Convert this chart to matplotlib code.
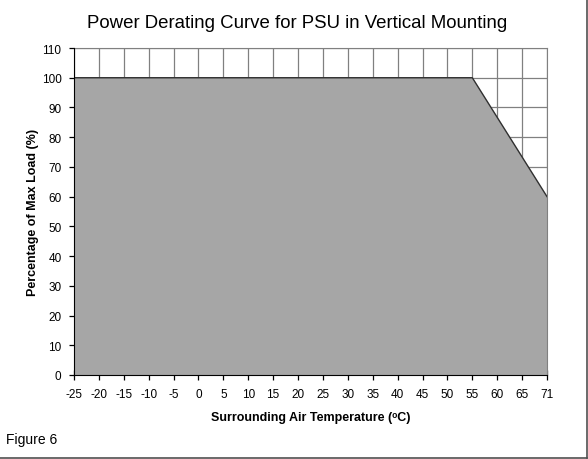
import numpy as np
import matplotlib
matplotlib.use("Agg")
import matplotlib.pyplot as plt

plt.rcParams['font.family'] = ['Liberation Sans', 'DejaVu Sans']

# x axis categories (evenly spaced, last one is 71)
temp_ticks = [-25, -20, -15, -10, -5, 0, 5, 10, 15, 20, 25, 30, 35, 40, 45, 50, 55, 60, 65, 71]
load_ticks = [0, 10, 20, 30, 40, 50, 60, 70, 80, 90, 100, 110]

# derating curve break points
curve_temp = [-25, 55, 71]
curve_load = [100, 100, 60]

fig = plt.figure(figsize=(5.88, 4.6), dpi=100)
ax = fig.add_axes([74/588, 1-376/460, (547-74)/588, (376-49)/460])

pos = np.arange(len(temp_ticks))
cx = [temp_ticks.index(t) for t in curve_temp]

ax.set_xlim(pos[0], pos[-1])
ax.set_ylim(0, 110)
ax.set_xticks(pos)
ax.set_xticklabels([str(t) for t in temp_ticks], fontsize=8.5)
ax.set_yticks(load_ticks)
ax.set_yticklabels([str(v) for v in load_ticks], fontsize=8.5)

ax.grid(True, color='#808080', linewidth=0.9)
ax.set_axisbelow(True)

ax.fill_between(cx, curve_load, 0, color='#a6a6a6', linewidth=0, zorder=2)
ax.plot(cx, curve_load, color='#303030', linewidth=1.0, zorder=3)

for s in ['top', 'right']:
    ax.spines[s].set_color('#808080')
for s in ['left', 'bottom']:
    ax.spines[s].set_color('black')
    ax.spines[s].set_zorder(4)
ax.tick_params(axis='x', direction='inout', length=7, width=0.9, pad=6, colors='black')
ax.tick_params(axis='y', direction='out', length=3.5, width=0.9, pad=5.5, colors='black')

ax.set_xlabel("Surrounding Air Temperature (ᵒC)", fontsize=9, fontweight='bold', labelpad=8)
ax.set_ylabel("Percentage of Max Load (%)", fontsize=9, fontweight='bold', labelpad=2)

fig.text(297/588, 1-23/460, "Power Derating Curve for PSU in Vertical Mounting",
         ha='center', va='center', fontsize=13.4)
fig.text(6/588, 1-440/460, "Figure 6", ha='left', va='center', fontsize=10)

# frame lines on right and bottom of the figure
fig.add_artist(plt.Line2D([586.5/588, 586.5/588], [1.5/460, 1], color='#505050', linewidth=1.2))
fig.add_artist(plt.Line2D([0, 586.5/588], [1.5/460, 1.5/460], color='#505050', linewidth=1.2))

fig.savefig("out.png", dpi=100)
